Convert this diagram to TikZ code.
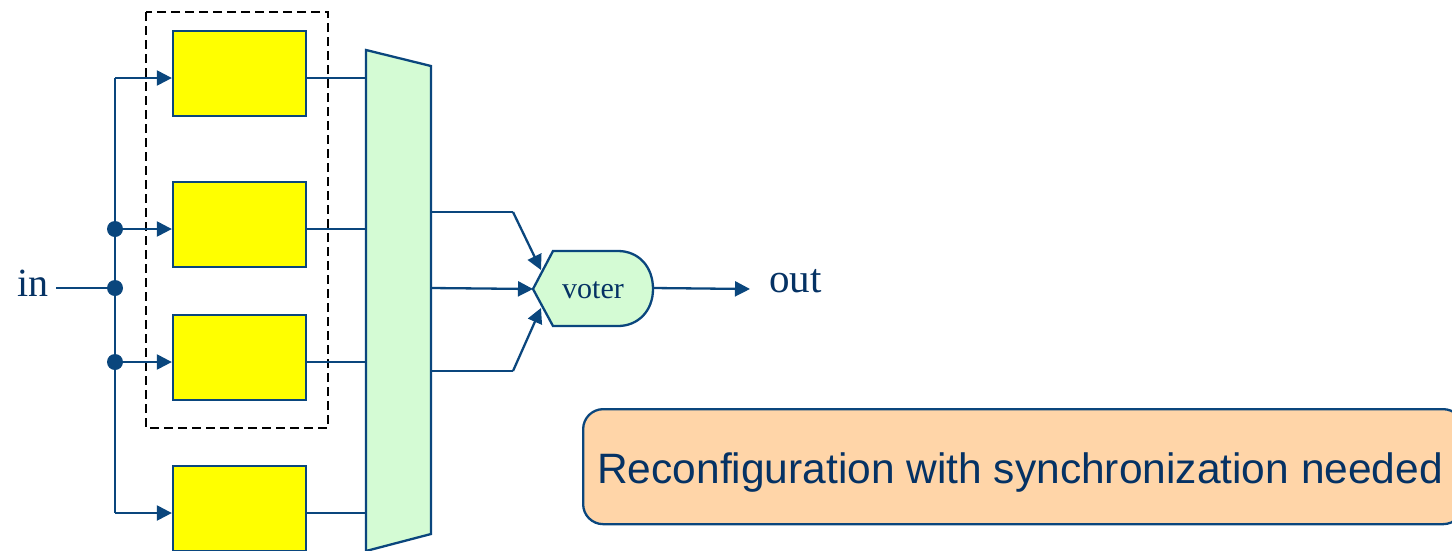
\documentclass[tikz,border=0pt]{standalone}
\usepackage{fontspec}
\setmainfont{Liberation Serif}
\newfontfamily\labelsans{Liberation Sans}
\usetikzlibrary{arrows.meta,calc}
\definecolor{wire}{RGB}{10,70,125}
\definecolor{ink}{RGB}{5,50,100}
\definecolor{unitfill}{RGB}{255,255,0}
\definecolor{muxfill}{RGB}{212,251,212}
\definecolor{notefill}{RGB}{255,213,168}
\tikzset{
  wireline/.style={draw=wire,line width=2.3pt},
  feed/.style={wireline,-{Triangle[length=15pt,width=15pt]}},
  unit/.style={draw=wire,line width=2.3pt,fill=unitfill,minimum width=133pt,minimum height=85pt,inner sep=0pt},
  junction/.style={circle,fill=wire,inner sep=0pt,minimum size=16pt},
  lbl/.style={text=ink,inner sep=0pt},
}
\begin{document}
\begin{tikzpicture}[x=1pt,y=-1pt]
\useasboundingbox (0,0) rectangle (1452,550);

% redundancy group outline
\draw[black,line width=2.3pt,dash pattern=on 9pt off 5pt] (146,12) rectangle (328,428);

% processing units
\node[unit] (b1) at (239.5,73.5) {};
\node[unit] (b2) at (239.5,224.5) {};
\node[unit] (b3) at (239.5,357.5) {};
\node[unit] (b4) at (239.5,508.5) {};

% input bus
\coordinate (t1) at (115,78);
\coordinate (t2) at (115,229);
\coordinate (t3) at (115,362);
\coordinate (t4) at (115,513);
\coordinate (tin) at (115,288);
\node[lbl,font=\fontsize{40}{44}\selectfont,anchor=base west] (in) at (17,296) {in};
\draw[wireline] (56,288) -- (tin);
\draw[wireline] (t1) -- (t4);
\foreach \k in {1,2,3,4} \draw[feed] (t\k) -- (t\k -| b\k.west);
\node[junction] (d2) at (t2) {};
\node[junction] (d3) at (tin) {};
\node[junction] (d4) at (t3) {};

% switch / multiplexer
\coordinate (mtl) at (366,50);
\coordinate (mtr) at (431,66);
\coordinate (mbr) at (431,534);
\coordinate (mbl) at (366,551);
\draw[wireline,fill=muxfill,line join=miter] (mtl) -- (mtr) -- (mbr) -- (mbl) -- cycle;
\foreach \k in {1,2,3,4} \draw[wireline] (b\k.east |- t\k) -- (t\k -| mtl);

% voter
\coordinate (vl) at (533,289);
\coordinate (vtl) at (553,251);
\coordinate (vbl) at (553,326);
\draw[wireline,fill=muxfill] (vl) -- (vtl) -- (618,251)
  .. controls (638,251) and (653,266) .. (653,289)
  .. controls (653,311) and (638,326) .. (618,326) -- (vbl) -- cycle;
\node[lbl,font=\fontsize{30}{34}\selectfont] (voter) at (593,290) {voter};

% voter inputs
\coordinate (o1) at (431,212);
\coordinate (o2) at (431,288);
\coordinate (o3) at (431,371);
\coordinate (k1) at (513,212);
\coordinate (k3) at (513,371);
\draw[wireline] (o1) -- (k1);
\draw[feed] (k1) -- (541,270);
\draw[feed] (o2) -- (vl);
\draw[wireline] (o3) -- (k3);
\draw[feed] (k3) -- (541,308);

% output
\node[lbl,font=\fontsize{41}{44}\selectfont,anchor=base west] (out) at (769,292) {out};
\draw[feed] (653,288) -- (750,289);

% note
\node[draw=wire,line width=2.3pt,fill=notefill,rounded corners=20pt,minimum width=880pt,minimum height=115pt,anchor=north west,inner sep=0pt] (note) at (582,408) {};
\node[lbl,font=\labelsans\fontsize{42.5}{48}\selectfont,anchor=base west] (notetext) at (597,483) {Reconfiguration with synchronization needed};
\end{tikzpicture}
\end{document}
